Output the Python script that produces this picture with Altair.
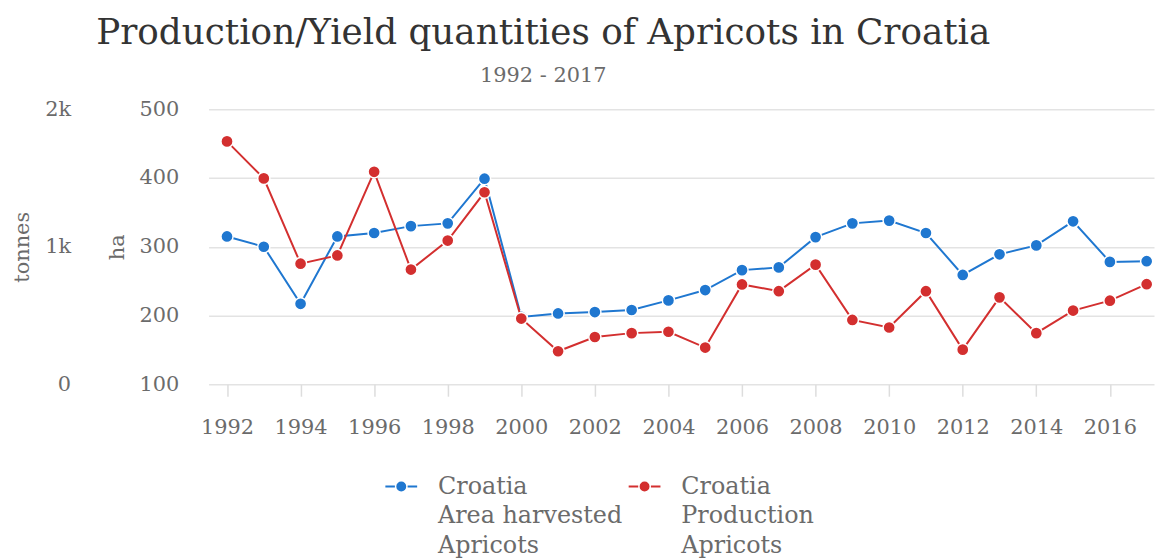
import altair as alt
import pandas as pd

years = list(range(1992, 2018))
area_ha = [315, 300, 217, 315, 320, 330, 334, 399, 198, 203, 205, 208, 222,
           237, 266, 270, 314, 334, 338, 320, 259, 289, 302, 337, 278, 279]
production_t = [1766, 1497, 877, 937, 1545, 834, 1045, 1396, 478, 240, 344,
                372, 382, 267, 726, 677, 870, 468, 413, 677, 252, 632, 372,
                536, 608, 728]
series_names = ["Croatia|Area harvested|Apricots", "Croatia|Production|Apricots"]
series_colors = ["#1f77d0", "#d32f2f"]
x_ticks = list(range(1992, 2017, 2))

FONT = "DejaVu Serif"
LABEL = "#6b6b6b"

df_area = pd.DataFrame({"year": years, "value": area_ha, "series": series_names[0]})
df_prod = pd.DataFrame({"year": years, "value": production_t, "series": series_names[1]})

color = alt.Color(
    "series:N",
    scale=alt.Scale(domain=series_names, range=series_colors),
    legend=alt.Legend(
        title=None,
        orient="none",
        legendX=177,
        legendY=363,
        direction="horizontal",
        columns=2,
        columnPadding=2,
        labelExpr="split(datum.label, '|')",
        labelFont=FONT,
        labelFontSize=24,
        labelColor=LABEL,
        labelLimit=400,
        labelOffset=20,
        symbolType="M-1,0L-0.4,0M0.4,0L1,0M0.25,0A0.25,0.25,0,1,1,-0.25,0A0.25,0.25,0,1,1,0.25,0Z",
        symbolSize=1024,
        symbolStrokeWidth=2,
        symbolOpacity=1,
    ),
)

x = alt.X(
    "year:Q",
    scale=alt.Scale(domain=[1991.5, 2017.2], nice=False, zero=False),
    axis=alt.Axis(
        title=None, values=x_ticks, format="d", grid=False, domain=False,
        ticks=True, tickColor="#dddddd", tickSize=12, tickWidth=1.5,
        labelFont=FONT, labelFontSize=21, labelColor=LABEL, labelPadding=21,
    ),
)

area_layer = alt.Chart(df_area).mark_line(
    strokeWidth=2, point=alt.OverlayMarkDef(filled=True, size=150, stroke="white", strokeWidth=1.5)
).encode(
    x=x,
    y=alt.Y(
        "value:Q",
        scale=alt.Scale(domain=[100, 500], nice=False, zero=False),
        axis=alt.Axis(
            title="ha", orient="left", values=[100, 200, 300, 400, 500],
            grid=True, gridColor="#e3e3e3", gridWidth=1.5, domain=False,
            ticks=False, tickSize=0, labelPadding=30,
            labelFont=FONT, labelFontSize=21, labelColor=LABEL,
            titleFont=FONT, titleFontSize=21, titleColor=LABEL,
            titleFontWeight="normal", titlePadding=12,
        ),
    ),
    color=color,
)

prod_layer = alt.Chart(df_prod).mark_line(
    strokeWidth=2, point=alt.OverlayMarkDef(filled=True, size=150, stroke="white", strokeWidth=1.5)
).encode(
    x=x,
    y=alt.Y(
        "value:Q",
        scale=alt.Scale(domain=[0, 2000], nice=False),
        axis=alt.Axis(
            title="tonnes", orient="left", values=[0, 1000, 2000],
            labelExpr="datum.value == 0 ? '0' : format(datum.value / 1000, 'd') + 'k'",
            grid=False, domain=False, ticks=False, tickSize=0, labelPadding=30,
            offset=109,
            labelFont=FONT, labelFontSize=21, labelColor=LABEL,
            titleFont=FONT, titleFontSize=21, titleColor=LABEL,
            titleFontWeight="normal", titlePadding=12,
        ),
    ),
    color=color,
)

chart = alt.layer(area_layer, prod_layer).resolve_scale(y="independent").properties(
    width=952,
    height=277,
    padding={"left": 202, "top": 100, "right": 2, "bottom": 173},
    autosize=alt.AutoSizeParams(type="none"),
    title=alt.TitleParams(
        text="Production/Yield quantities of Apricots in Croatia",
        subtitle="1992 - 2017",
        anchor="middle",
        dx=-139,
        font=FONT, fontSize=36, color="#333333", fontWeight="normal",
        subtitleFont=FONT, subtitleFontSize=21, subtitleColor=LABEL,
        subtitlePadding=14, offset=11,
    ),
).configure(style={"guide-label": {"lineHeight": 30}}).configure_view(stroke=None)

chart.save("out.html", embed_options={"renderer": "svg", "actions": False})
